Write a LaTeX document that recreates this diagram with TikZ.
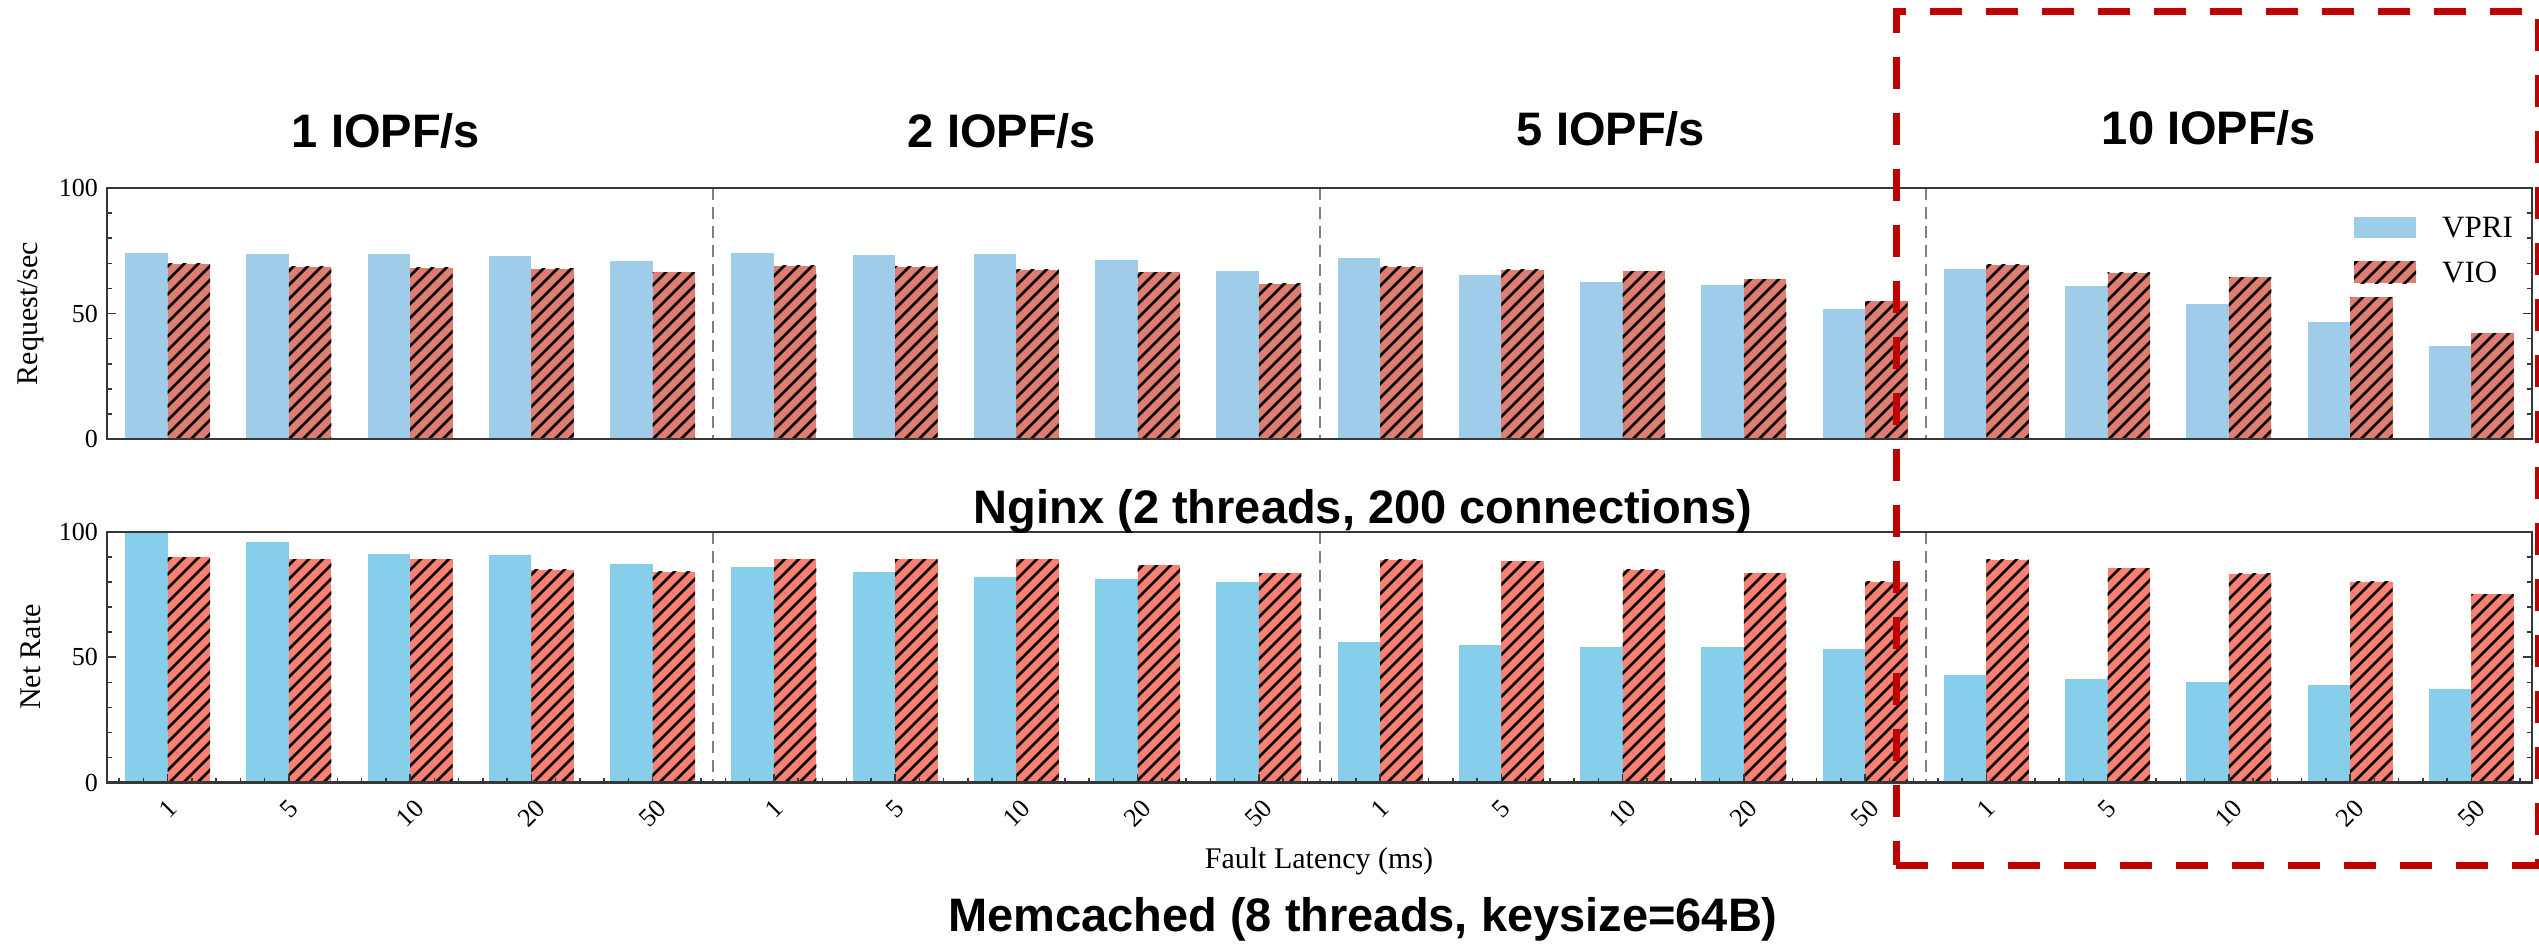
\documentclass[tikz,border=0pt]{standalone}
\usepackage{fontspec}
\setmainfont{Liberation Serif}
\newfontfamily\headfont{Liberation Sans}
\definecolor{vprione}{RGB}{159,205,233}
\definecolor{vioone}{RGB}{222,125,112}
\definecolor{vpritwo}{RGB}{135,206,235}
\definecolor{viotwo}{RGB}{250,128,114}
\definecolor{boxred}{RGB}{192,0,0}
\definecolor{spinegray}{RGB}{55,55,55}
\definecolor{sepgray}{RGB}{128,128,128}

% hatched bar: x0, x1, ytop, ybottom, fill colour
\newcommand\hatchbar[5]{%
  \fill[#5] (#1,#3) rectangle (#2,#4);
  \begin{scope}
    \clip (#1,#3) rectangle (#2,#4);
    \pgfmathtruncatemacro\hna{floor((#1+#3)/14)-1}
    \pgfmathtruncatemacro\hnb{ceil((#2+#4)/14)+1}
    \foreach \n in {\hna,...,\hnb}{
      \draw[hatchline] ({#1-2},{14*\n-#1+2}) -- ({#2+2},{14*\n-#2-2});
    }
  \end{scope}}

\begin{document}
\begin{tikzpicture}[x=1pt,y=-1pt,
  axisline/.style={draw=spinegray,line width=2.2pt},
  sepline/.style={draw=sepgray,line width=2pt,dash pattern=on 12pt off 7pt},
  hatchline/.style={draw=black,line width=2.6pt},
  tickmark/.style={draw=spinegray,line width=1.6pt},
  ticklabel/.style={font=\fontsize{26}{26}\selectfont,inner sep=0pt},
  axislabel/.style={font=\fontsize{30}{30}\selectfont,inner sep=0pt},
  headline/.style={font=\headfont\bfseries\fontsize{47}{47}\selectfont,inner sep=0pt,anchor=base},
  legendtext/.style={font=\fontsize{31}{31}\selectfont,inner sep=0pt,anchor=base west},
  focusbox/.style={draw=boxred,line width=7pt,dash pattern=on 32pt off 24pt}
]
\useasboundingbox (0,0) rectangle (2539,943);
\fill[white] (0,0) rectangle (2539,943);

% data (percent scale)
\def\topvpri{{74.0,73.9,73.8,73.0,71.0,74.3,73.5,73.6,71.5,66.8,72.2,65.3,62.6,61.2,51.7,67.7,61.0,53.8,46.8,36.9}}
\def\topvio{{69.8,68.7,68.3,67.9,66.4,69.1,68.6,67.4,66.4,61.9,68.7,67.4,66.9,63.6,54.8,69.4,66.3,64.4,56.4,42.2}}
\def\botvpri{{100,96.0,91.3,90.7,87.3,86.0,84.0,82.0,81.3,80.1,56.0,54.8,54.1,54.1,53.4,42.8,41.5,40.2,38.8,37.5}}
\def\botvio{{89.9,89.1,89.2,84.9,84.1,89.1,89.1,89.1,86.7,83.5,89.0,88.3,84.9,83.5,80.1,88.9,85.5,83.3,80.1,75.2}}

% bars of both panels
\foreach \k in {0,...,19}{
  \pgfmathsetmacro\cx{167.6+121.25*\k}
  \pgfmathsetmacro\xa{\cx-42.4}
  \pgfmathsetmacro\xb{\cx+42.4}
  \pgfmathsetmacro\ya{439-2.51*\topvpri[\k]}
  \pgfmathsetmacro\yb{439-2.51*\topvio[\k]}
  \pgfmathsetmacro\yc{782.5-2.505*\botvpri[\k]}
  \pgfmathsetmacro\yd{782.5-2.505*\botvio[\k]}
  \fill[vprione] (\xa,\ya) rectangle (\cx,439);
  \hatchbar{\cx}{\xb}{\yb}{439}{vioone}
  \fill[vpritwo] (\xa,\yc) rectangle (\cx,782.5);
  \hatchbar{\cx}{\xb}{\yd}{782.5}{viotwo}
}

% section separators
\foreach \s in {713.2,1319.5,1925.7}{
  \draw[sepline] (\s,188) -- (\s,439);
  \draw[sepline] (\s,532) -- (\s,782.5);
}

% frames
\draw[axisline] (107,188) rectangle (2532,439);
\draw[axisline] (107,532) rectangle (2532,782.5);

% y ticks, both sides
\foreach \v in {0,10,...,100}{
  \pgfmathsetmacro\len{ifthenelse(mod(\v,50)==0,9,5)}
  \pgfmathsetmacro\ya{439-2.51*\v}
  \pgfmathsetmacro\yb{782.5-2.505*\v}
  \draw[tickmark] (107,\ya) -- ++(\len,0);
  \draw[tickmark] (2532,\ya) -- ++(-\len,0);
  \draw[tickmark] (107,\yb) -- ++(\len,0);
  \draw[tickmark] (2532,\yb) -- ++(-\len,0);
}
\foreach \v in {0,50,100}{
  \node[ticklabel,anchor=east] (ya\v) at (98,{439-2.51*\v}) {\v};
  \node[ticklabel,anchor=east] (yb\v) at (98,{782.5-2.505*\v}) {\v};
}

% x ticks of the lower panel
\foreach \m in {-2,...,97}{
  \draw[tickmark] ({167.6+24.25*\m},782.5) -- ++(0,-5);
}
\foreach \k in {0,...,19}{
  \draw[tickmark] ({167.6+121.25*\k},782.5) -- ++(0,-9);
}
\foreach \j in {0,...,3}{
  \foreach [count=\i from 0] \lab in {1,5,10,20,50}{
    \pgfmathsetmacro\cx{167.6+121.25*(5*\j+\i)}
    \pgfmathsetmacro\yy{ifthenelse(\lab<10,809,813.5)}
    \node[ticklabel,rotate=45] (xl\j\i) at (\cx,\yy) {\lab};
  }
}

% axis labels
\node[axislabel,rotate=90] (ylabA) at (31,313.5) {Request/sec};
\node[axislabel,rotate=90] (ylabB) at (31,657) {Net Rate};
\node[axislabel,anchor=base] (xlab) at (1319,868) {Fault Latency (ms)};

% legend
\fill[vprione] (2354,217) rectangle (2416,238);
\hatchbar{2354}{2416}{261}{283}{vioone}
\node[legendtext] (lgA) at (2442,237) {VPRI};
\node[legendtext] (lgB) at (2442,282) {VIO};

% headings
\node[headline] (h1) at (386,147) {1 IOPF/s};
\node[headline] (h2) at (1002,147) {2 IOPF/s};
\node[headline] (h5) at (1611,145) {5 IOPF/s};
\node[headline] (h10) at (2209,144) {10 IOPF/s};
\node[headline] (nginx) at (1363,523) {Nginx (2 threads, 200 connections)};
\node[headline] (memc) at (1363,931) {Memcached (8 threads, keysize=64B)};

% highlighted region
\coordinate (bl) at (1896,865);
\coordinate (br) at (2538,865);
\coordinate (tr) at (2538,11);
\coordinate (tl) at (1896,11);
\draw[focusbox] (bl) -- (br) -- (tr) -- (tl) -- cycle;
\end{tikzpicture}
\end{document}
